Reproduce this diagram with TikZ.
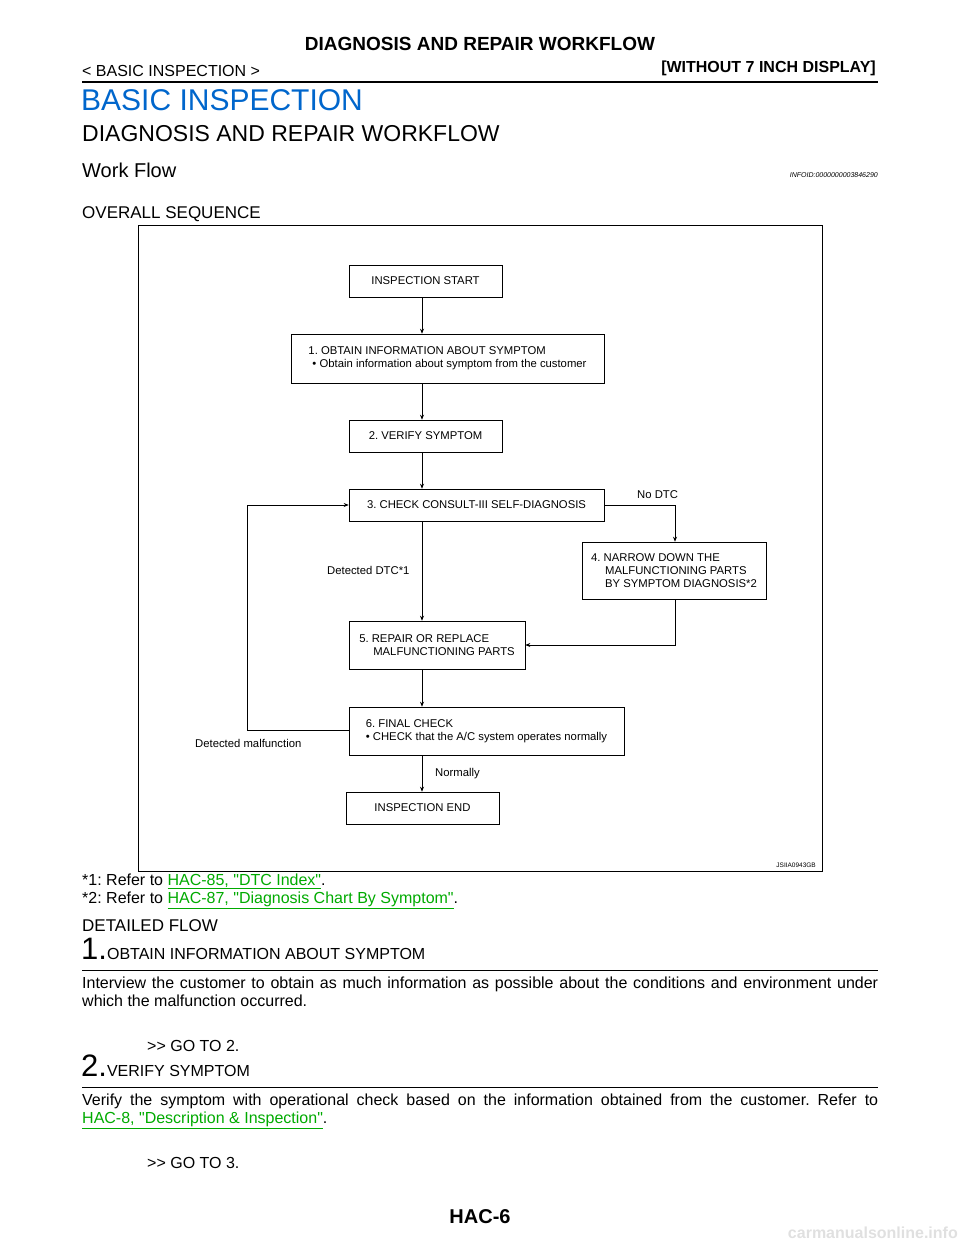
\documentclass[tikz,border=0pt]{standalone}
\usepackage{fontspec}
\setmainfont{Liberation Sans}[Ligatures={NoCommon}]
\usetikzlibrary{arrows.meta}
\definecolor{linkg}{RGB}{0,170,0}
\definecolor{hblue}{RGB}{0,102,204}
\frenchspacing
\tikzset{
 box/.style={draw,line width=0.6pt,inner sep=0pt,font=\fontsize{11.3}{13}\selectfont,align=left},
 arr/.style={line width=0.6pt,-{Stealth[length=5pt,width=4pt]}},
 lbl/.style={font=\fontsize{11.3}{12}\selectfont,inner sep=0pt},
 txt/.style={inner sep=0pt,anchor=base west,font=\fontsize{16}{18}\selectfont},
}
\newcommand{\lnk}[1]{\textcolor{linkg}{\underline{#1}}}
\newcommand{\qq}{\textquotedbl}
\begin{document}
\begin{tikzpicture}[x=1pt,y=-1pt]
\useasboundingbox (0,0) rectangle (960,1242);
% header
\node[inner sep=0pt,anchor=base,font=\fontsize{19}{20}\selectfont\bfseries] (h1) at (480,50) {DIAGNOSIS AND REPAIR WORKFLOW};
\node[txt] (h2) at (82,76) {< BASIC INSPECTION >};
\node[inner sep=0pt,anchor=base east,font=\fontsize{16}{18}\selectfont\bfseries] (h3) at (876,72) {[WITHOUT 7 INCH DISPLAY]};
\draw[line width=2pt] (82,81.5) -- (878,81.5);
\node[txt,font=\fontsize{30}{32}\selectfont,text=hblue] (t1) at (81,110) {BASIC INSPECTION};
\node[txt,font=\fontsize{23}{25}\selectfont] (t2) at (82,141) {DIAGNOSIS AND REPAIR WORKFLOW};
\node[txt,font=\fontsize{20}{22}\selectfont] (t3) at (82,177) {Work Flow};
\node[inner sep=0pt,anchor=base east,font=\fontsize{7}{8}\selectfont\itshape] (t4) at (878,177) {INFOID:0000000003846290};
\node[txt,font=\fontsize{17}{19}\selectfont] (t5) at (82,218) {OVERALL SEQUENCE};
% frame
\draw[line width=1pt] (138,225) rectangle (822,871);
\node[inner sep=0pt,anchor=base east,font=\fontsize{6.5}{7}\selectfont] (code) at (816,867) {JSIIA0943GB};
% boxes
\node[box,minimum width=153pt,minimum height=32pt,align=center] (bs) at (425.5,281) {INSPECTION START};
\node[box,minimum width=313pt,minimum height=49pt] (b1) at (447.5,358.5) {1. OBTAIN INFORMATION ABOUT SYMPTOM\\ \hspace*{4pt}• Obtain information about symptom from the customer};
\node[box,minimum width=153pt,minimum height=32pt,align=center] (b2) at (425.5,436) {2. VERIFY SYMPTOM};
\node[box,minimum width=255pt,minimum height=32pt,align=center] (b3) at (476.5,505) {3. CHECK CONSULT-III SELF-DIAGNOSIS};
\node[box,minimum width=184pt,minimum height=57pt] (b4) at (674,570.5) {4. NARROW DOWN THE\\ \hspace*{14pt}MALFUNCTIONING PARTS\\ \hspace*{14pt}BY SYMPTOM DIAGNOSIS*2};
\node[box,minimum width=176pt,minimum height=48pt] (b5) at (437,645) {5. REPAIR OR REPLACE\\ \hspace*{14pt}MALFUNCTIONING PARTS};
\node[box,minimum width=275pt,minimum height=48pt] (b6) at (486.5,731) {6. FINAL CHECK\\ • CHECK that the A/C system operates normally};
\node[box,minimum width=153pt,minimum height=32pt,align=center] (be) at (422.5,808) {INSPECTION END};
% connectors
\draw[arr] (bs.south -| 422,0) -- (b1.north -| 422,0);
\draw[arr] (b1.south -| 422,0) -- (b2.north -| 422,0);
\draw[arr] (b2.south -| 422,0) -- (b3.north -| 422,0);
\draw[arr] (b3.south -| 422,0) -- (b5.north -| 422,0);
\draw[arr] (b5.south -| 422,0) -- (b6.north -| 422,0);
\draw[arr] (b6.south -| 422,0) -- (be.north -| 422,0);
\draw[arr] (b3.east) -- (675,505) -- (b4.north -| 675,0);
\draw[arr] (b4.south -| 675,0) -- (675,645) -- (b5.east);
\draw[arr] (b6.west |- 0,730) -- (247,730) -- (247,505) -- (b3.west);
\node[lbl,anchor=west] (l1) at (637,495) {No DTC};
\node[lbl,anchor=west] (l2) at (327,570) {Detected DTC*1};
\node[lbl,anchor=west] (l3) at (195,743) {Detected malfunction};
\node[lbl,anchor=west] (l4) at (435,774) {Normally};
% footnotes
\node[txt] (f1) at (82,885) {*1: Refer to \lnk{HAC-85, \qq DTC Index\qq}.};
\node[txt] (f2) at (82,903) {*2: Refer to \lnk{HAC-87, \qq Diagnosis Chart By Symptom\qq}.};
\node[txt,font=\fontsize{17}{19}\selectfont] (d0) at (82,931) {DETAILED FLOW};
\node[txt] (s1) at (81,959) {{\fontsize{31}{30}\selectfont 1.}OBTAIN INFORMATION ABOUT SYMPTOM};
\draw[line width=0.8pt] (82,970) -- (878,970);
\node[txt,text width=796pt,align=justify] (p1) at (82,988) {Interview the customer to obtain as much information as possible about the conditions and environment under which the malfunction occurred.};
\node[txt] (g1) at (147,1051) {{>}{>} GO TO 2.};
\node[txt] (s2) at (81,1076) {{\fontsize{31}{30}\selectfont 2.}VERIFY SYMPTOM};
\draw[line width=0.8pt] (82,1087) -- (878,1087);
\node[txt,text width=796pt,align=justify] (p2) at (82,1105) {Verify the symptom with operational check based on the information obtained from the customer. Refer to \lnk{HAC-8, \qq Description \& Inspection\qq}.};
\node[txt] (g2) at (147,1168) {{>}{>} GO TO 3.};
\node[inner sep=0pt,anchor=base,font=\fontsize{20}{22}\selectfont\bfseries] (pg) at (480,1223) {HAC-6};
\node[inner sep=0pt,anchor=base east,font=\fontsize{16}{18}\selectfont\bfseries,text=black!12] (wm) at (958,1238) {carmanualsonline.info};
\end{tikzpicture}
\end{document}
